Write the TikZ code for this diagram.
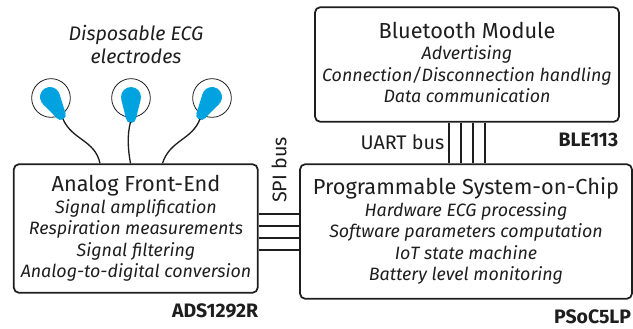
\documentclass[tikz,border=0pt]{standalone}
\usepackage{fontspec}
\setmainfont{Fira Sans}
\definecolor{dropblue}{RGB}{0,163,224}
\definecolor{inkgrey}{RGB}{30,30,30}
\newcommand{\boxtitle}{\fontsize{16.3}{16.1}\selectfont\upshape}
\tikzset{every picture/.style={line width=1.3pt}}
\tikzset{
  blockbox/.style={draw=inkgrey,rounded corners=4pt,inner sep=0pt},
  blocktext/.style={align=center,inner sep=0pt,text=inkgrey,font=\fontsize{13.4}{16.1}\selectfont\itshape},
  partname/.style={anchor=east,inner sep=0pt,text=inkgrey,font=\fontsize{14.6}{16}\selectfont\bfseries},
  busname/.style={inner sep=0pt,text=inkgrey,font=\fontsize{14.8}{16}\selectfont},
  padring/.style={circle,draw=inkgrey,line width=0.6pt,minimum size=29pt,inner sep=0pt},
  wire/.style={draw=inkgrey,line width=1pt},
  dropfill/.style={fill=dropblue,draw=none},
  drop/.pic={
    \fill[dropfill] (0,0) circle (10);
    \fill[dropfill] (0,-21) circle (5);
    \fill[dropfill] (-9.71,-2.38) -- (9.71,-2.38) -- (4.86,-22.19) -- (-4.86,-22.19) -- cycle;
  }
}
\begin{document}
\begin{tikzpicture}[x=0.75pt,y=0.75pt,yscale=-1,xscale=1]
\useasboundingbox (0,0) rectangle (633,329);

% Blocks
\node [blockbox,minimum width=183pt,minimum height=96.5pt] (afe) at (135.75,228.5) {};
\node [blockbox,minimum width=228pt,minimum height=86pt] (ble) at (467,64.5) {};
\node [blockbox,minimum width=249pt,minimum height=101pt] (soc) at (466,231.5) {};
\node [blocktext] (afetext) at (136,228.5) {{\boxtitle Analog Front-End}\\Signal amplification\\Respiration measurements\\Signal filtering\\Analog-to-digital conversion};
\node [blocktext] (bletext) at (467,62.5) {{\boxtitle Bluetooth Module}\\Advertising\\Connection/Disconnection handling\\Data communication};
\node [blocktext] (soctext) at (466,231) {{\boxtitle Programmable System-on-Chip}\\Hardware ECG processing\\Software parameters computation\\IoT state machine\\Battery level monitoring};

% Electrodes
\node [padring] (padl) at (51,98) {};
\node [padring] (padm) at (131,98) {};
\node [padring] (padr) at (212,98) {};
\pic [rotate=31] at (50,97) {drop};
\pic at (131,97) {drop};
\pic [rotate=-31] at (212,97) {drop};

\coordinate (taill) at (63,119);
\coordinate (tailm) at (130.5,122);
\coordinate (tailr) at (200,119);
\draw [wire] (taill) .. controls (72,140) and (95,140) .. (afe.north -| 100,0);
\draw [wire] (tailm) .. controls (127,135) and (128,150) .. (afe.north -| 130.5,0);
\draw [wire] (tailr) .. controls (192,140) and (170,140) .. (afe.north -| 162.5,0);

% SPI bus
\foreach \ypos in {214,226,238,250}
  \draw [draw=inkgrey] (afe.east |- 0,\ypos) -- (soc.west |- 0,\ypos);
% UART bus
\foreach \xpos in {449,461,473,485}
  \draw [draw=inkgrey] (ble.south -| \xpos,0) -- (soc.north -| \xpos,0);

% Text
\node [inner sep=0pt,align=center,text=inkgrey,font=\fontsize{14.7}{17.2}\selectfont\itshape] (electrodes) at (136,44.5) {Disposable ECG\\electrodes};
\node [busname] (uart) at (402.5,142) {UART bus};
\node [busname,rotate=90] (spi) at (279,170) {SPI bus};
\node [partname] (ads) at (259,311) {ADS1292R};
\node [partname] (bt) at (619,140) {BLE113};
\node [partname] (psoc) at (632,317) {PSoC5LP};
\end{tikzpicture}
\end{document}
